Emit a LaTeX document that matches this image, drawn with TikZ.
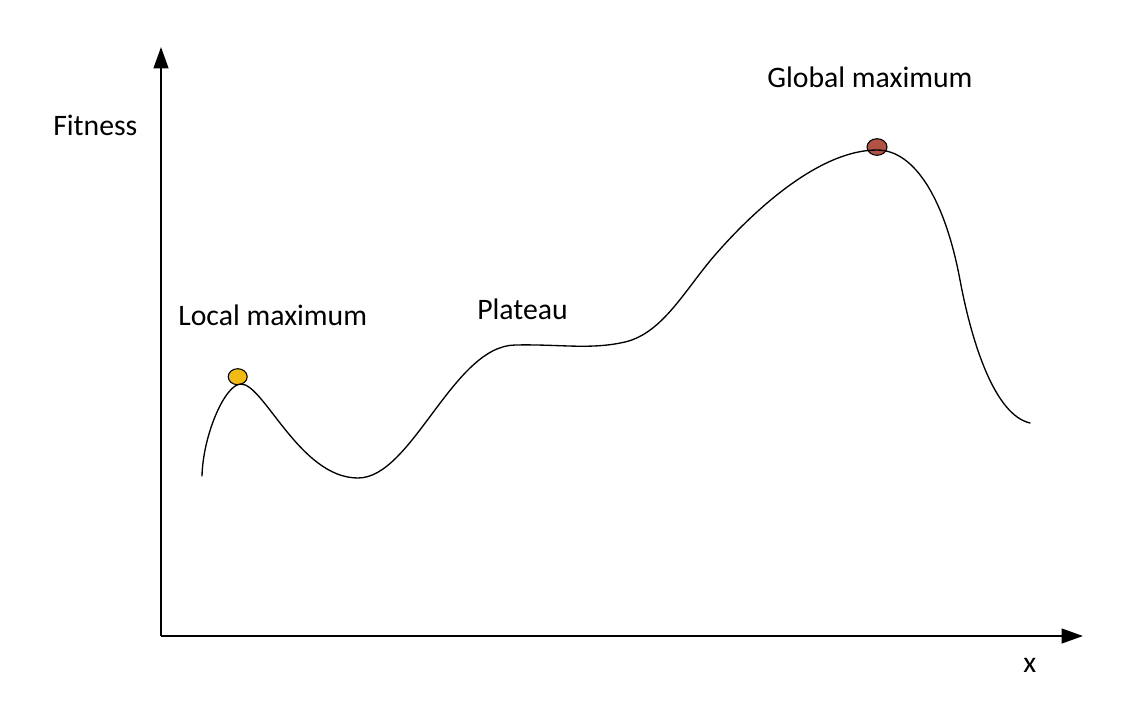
\documentclass[tikz,border=0pt]{standalone}
\usepackage{fontspec}
\setmainfont{Carlito}
\usetikzlibrary{arrows.meta}
\definecolor{localcol}{RGB}{242,186,20}
\definecolor{globalcol}{RGB}{178,82,68}
\begin{document}
\begin{tikzpicture}[x=0.75pt,y=-0.75pt,
  axis/.style={line width=1.6pt,-{Triangle[length=16pt,width=11pt]}},
  lbl/.style={inner sep=0,anchor=base west,font=\fontsize{22.3pt}{26pt}\selectfont},
  dot/.style={draw=black,line width=0.8pt},
  landscape/.style={line width=1pt,line cap=round}]
\useasboundingbox (0,0) rectangle (1138,722);
\coordinate (origin) at (161,636);
\coordinate (ytip) at (161,47);
\coordinate (xtip) at (1083,636);
\draw[axis] (origin) -- (ytip);
\draw[axis] (origin) -- (xtip);
\node[lbl] (fitness) at (53,135) {Fitness};
\node[lbl] (xlabel) at (1023,672) {x};
\node[lbl] (local) at (178,325) {Local maximum};
\node[lbl] (plateau) at (477,319) {Plateau};
\node[lbl] (global) at (767,87) {Global maximum};
\fill[localcol] (237.7,376.7) ellipse [x radius=9.5, y radius=8];
\draw[dot] (237.7,376.7) ellipse [x radius=9.5, y radius=8];
\fill[globalcol] (877,147) ellipse [x radius=10, y radius=8.3];
\draw[dot] (877,147) ellipse [x radius=10, y radius=8.3];
\coordinate (c0) at (202,476);
\coordinate (c1) at (241,384);
\coordinate (c2) at (358,478);
\coordinate (c3) at (515,345);
\coordinate (c4) at (625,342);
\coordinate (c5) at (715,255);
\coordinate (c6) at (877,150);
\coordinate (c7) at (960,280);
\coordinate (c8) at (1030,423);
\draw[landscape] (c0)
  .. controls (203,435) and (225,384) .. (c1)
  .. controls (264,384) and (300,478) .. (c2)
  .. controls (412,478) and (453,346) .. (c3)
  .. controls (560,344) and (590,350) .. (c4)
  .. controls (663,333) and (685,289.5) .. (c5)
  .. controls (755,209) and (820,150) .. (c6)
  .. controls (915,150) and (945,200) .. (c7)
  .. controls (972,344) and (995,415) .. (c8);
\end{tikzpicture}
\end{document}
